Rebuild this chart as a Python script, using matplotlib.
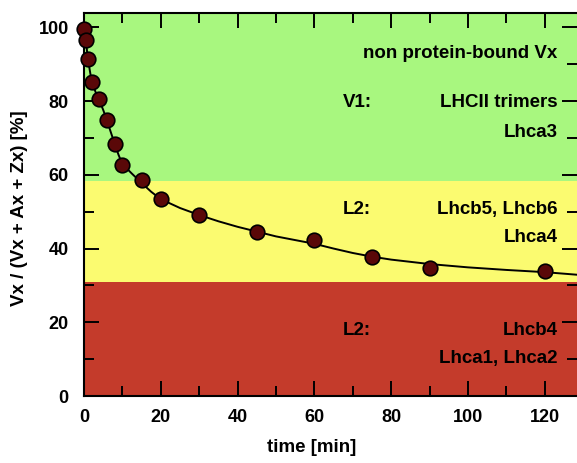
import matplotlib
matplotlib.use("Agg")
import matplotlib.pyplot as plt
from matplotlib.ticker import MultipleLocator

plt.rcParams['font.family'] = ['Liberation Sans', 'DejaVu Sans']
plt.rcParams['font.weight'] = 'bold'

# measured points
time_pts = [0, 0.5, 1, 2, 4, 6, 8, 10, 15, 20, 30, 45, 60, 75, 90, 120]
vx_pts = [99.5, 96.6, 91.4, 85.3, 80.5, 74.9, 68.4, 62.6, 58.5, 53.4, 49.1, 44.6, 42.3, 37.6, 34.6, 34.0]

# fitted curve
time_fit = [0, 0.5, 1, 2, 3, 4, 5, 6, 7, 8, 9, 10, 12.5, 15, 17.5, 20, 25, 30, 35, 40,
            45, 50, 55, 60, 65, 70, 75, 80, 90, 100, 110, 120, 128.4]
vx_fit = [99.5, 96.3, 91.5, 85.3, 82.5, 80.2, 77.6, 74.7, 71.5, 68.4, 65.4, 62.9, 60.3, 57.8, 55.4,
          53.4, 51.0, 49.1, 47.4, 45.9, 44.6, 43.3, 42.3, 41.3, 40.0, 38.8, 37.8, 37.0, 35.8,
          34.9, 34.2, 33.6, 32.9]

# background bands (lower, upper, colour)
band_low = [0, 31, 58.2]
band_high = [31, 58.2, 110]
band_col = ['#c43b2b', '#fbfb70', '#a8f77f']

# labels: (y, left label, right label)
label_y = [92.8, 79.5, 71.6, 50.7, 42.9, 17.9, 10.3]
label_left = ['', 'V1:', '', 'L2:', '', 'L2:', '']
label_right = ['non protein-bound Vx', 'LHCII trimers', 'Lhca3', 'Lhcb5, Lhcb6', 'Lhca4',
               'Lhcb4', 'Lhca1, Lhca2']

fig = plt.figure(figsize=(5.77, 4.63), dpi=100)
ax = fig.add_axes([0.1456, 0.1447, 0.8544, 0.8272])

for lo, hi, c in zip(band_low, band_high, band_col):
    ax.axhspan(lo, hi, color=c, lw=0, zorder=0)

ax.plot(time_fit, vx_fit, color='black', lw=1.4, zorder=2)
ax.plot(time_pts, vx_pts, 'o', ms=10.5, mfc='#5a0808', mec='black', mew=1.2, zorder=3,
        clip_on=False)

for y, l, r in zip(label_y, label_left, label_right):
    if l:
        ax.text(67.5, y, l, fontsize=13.5, fontweight='bold', ha='left', va='center')
    ax.text(123.3, y, r, fontsize=13.5, fontweight='bold', ha='right', va='center')

ax.set_xlim(0, 128.4)
ax.set_ylim(0, 103.9)
ax.xaxis.set_major_locator(MultipleLocator(20))
ax.xaxis.set_minor_locator(MultipleLocator(10))
ax.yaxis.set_major_locator(MultipleLocator(20))
ax.yaxis.set_minor_locator(MultipleLocator(10))
ax.tick_params(which='both', direction='in', top=True, right=True, width=1.4,
               labelsize=13)
ax.tick_params(which='major', length=11)
ax.tick_params(which='minor', length=7.5)
ax.tick_params(axis='x', pad=9)
ax.tick_params(axis='y', pad=11)
for sp in ax.spines.values():
    sp.set_linewidth(1.5)
# right edge of the plot is cut off in the original
ax.spines['right'].set_visible(False)

ax.set_xlabel('time [min]', fontsize=13.5, fontweight='bold')
ax.set_ylabel('Vx / (Vx + Ax + Zx) [%]', fontsize=13.5, fontweight='bold')
ax.xaxis.set_label_coords(0.4625, -0.113)
ax.yaxis.set_label_coords(-0.113, 0.49)

fig.savefig('out.png', dpi=100)
